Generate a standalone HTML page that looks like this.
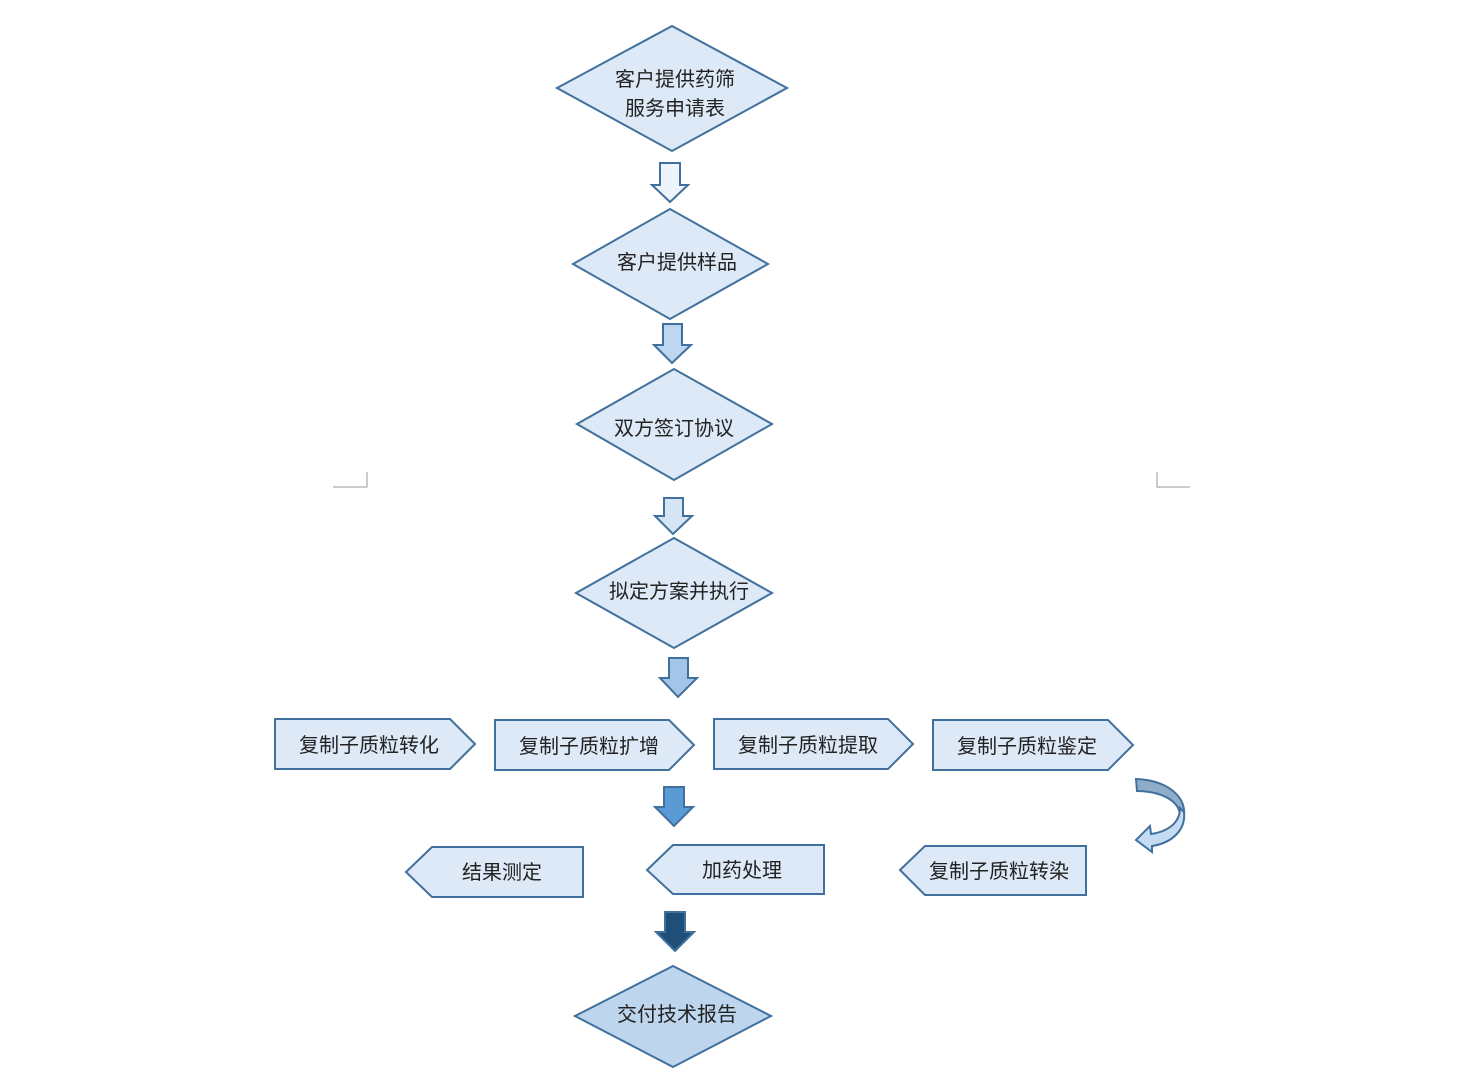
<!DOCTYPE html>
<html><head><meta charset="utf-8"><style>
html,body{margin:0;padding:0;background:#fff}
svg text{font-family:"Liberation Sans","Noto Sans CJK SC",sans-serif;font-size:20px;fill:#222;text-anchor:middle;dominant-baseline:central}
</style></head><body>
<svg width="1480" height="1086" viewBox="0 0 1480 1086" xmlns="http://www.w3.org/2000/svg">
<g stroke="#41709c" stroke-width="2" fill="#dde9f6">
<polygon points="557,88 672,26 787,88 672,151"/>
<polygon points="573,264 670,209 768,264 670,319"/>
<polygon points="577,424 674,369 772,424 674,480"/>
<polygon points="576,593 674,538 772,593 674,648"/>
<polygon points="575,1016 673,966 771,1016 673,1067" fill="#bdd6ee"/>
<polygon points="275,719 450,719 475,744 450,769 275,769"/>
<polygon points="495,720 669,720 694,745 669,770 495,770"/>
<polygon points="714,719 888,719 913,744 888,769 714,769"/>
<polygon points="933,720 1108,720 1133,745 1108,770 933,770"/>
<polygon points="583,847 432,847 406,872 432,897 583,897"/>
<polygon points="824,845 673,845 647,870 673,894 824,894"/>
<polygon points="1086,846 925,846 900,870 925,895 1086,895"/>
<polygon points="660,163 680,163 680,185 688,185 670,202 652,185 660,185" fill="#eef4fb"/>
<polygon points="663,324 682,324 682,345 691,345 672,363 654,345 663,345" fill="#bed7f0"/>
<polygon points="664,498 683,498 683,516 692,516 673,534 655,516 664,516" fill="#d5e5f5"/>
<polygon points="669,658 688,658 688,678 697,678 678,697 660,678 669,678" fill="#a2c5e8"/>
<polygon points="664,787 684,787 684,807 693,807 674,826 655,807 664,807" fill="#5b9bd5"/>
<polygon points="665,912 685,912 685,932 694,932 675,951 656,932 665,932" fill="#1f4e79"/>
<path d="M1136,779 C1165,780 1186,795 1184,815 C1182,830 1170,840 1158,842 L1160,835 C1172,830 1180,822 1180,814 C1178,800 1160,791 1137,791 Z" fill="#8fadc8"/>
<path d="M1184,812 C1186,830 1172,843 1152,846 L1152,852 L1136,840 L1150,826 L1151,834 C1166,832 1180,824 1180,808 Z" fill="#c3dbf3"/>
</g>
<g stroke="#999" stroke-width="1" fill="none">
<polyline points="367,472 367,487 333,487"/>
<polyline points="1157,472 1157,487 1190,487"/>
</g>
<text x="675" y="80">客户提供药筛</text>
<text x="675" y="109">服务申请表</text>
<text x="677" y="263">客户提供样品</text>
<text x="674" y="429">双方签订协议</text>
<text x="679" y="592">拟定方案并执行</text>
<text x="369" y="746">复制子质粒转化</text>
<text x="589" y="747">复制子质粒扩增</text>
<text x="808" y="746">复制子质粒提取</text>
<text x="1027" y="747">复制子质粒鉴定</text>
<text x="502" y="873">结果测定</text>
<text x="742" y="871">加药处理</text>
<text x="999" y="872">复制子质粒转染</text>
<text x="677" y="1015">交付技术报告</text>
</svg>
</body></html>
